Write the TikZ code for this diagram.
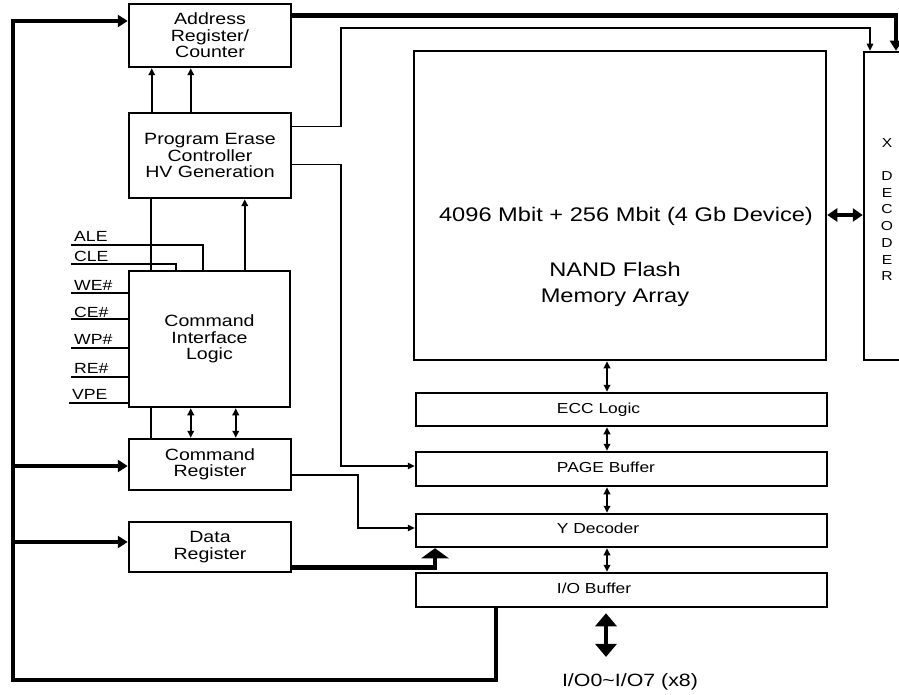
\documentclass[tikz,border=0pt]{standalone}
\usepackage{fontspec}
\setmainfont{Liberation Sans}[FakeStretch=1.2]
\usetikzlibrary{arrows.meta}
\begin{document}
\begin{tikzpicture}[x=1pt,y=-1pt,
  box/.style={draw, line width=2.5pt, inner sep=0pt, align=center},
  boxtxt/.style={font=\fontsize{16.3}{16.5}\selectfont},
  rowtxt/.style={font=\fontsize{14.5}{16}\selectfont, inner sep=0pt, anchor=base west},
  sig/.style={font=\fontsize{14.7}{16}\selectfont, inner sep=0pt, anchor=base west},
  memtxt/.style={font=\fontsize{19.7}{24}\selectfont, inner sep=0pt, anchor=base},
  wire/.style={line width=1.5pt},
  harr/.style={-{Triangle[length=7pt,width=6.5pt]}},
  tline/.style={line width=1.8pt},
  tarr/.style={line width=1.8pt, -{Triangle[length=7pt,width=6.5pt]}},
  tdbl/.style={line width=1.8pt, {Triangle[length=7pt,width=6.5pt]}-{Triangle[length=7pt,width=6.5pt]}},
  bus/.style={line width=4.5pt},
  busarr/.style={bus, -{Triangle[length=10pt,width=12pt]}},
]
\useasboundingbox (0,0) rectangle (899,695);
\clip (0,0) rectangle (899,695);

% boxes
\node[box, boxtxt, minimum width=162pt, minimum height=63pt] (addr) at (210,35.5) {Address\\Register/\\Counter};
\node[box, boxtxt, minimum width=162pt, minimum height=85pt] (pe) at (210,155.5) {Program Erase\\Controller\\HV Generation};
\node[box, boxtxt, minimum width=161pt, minimum height=136pt] (cil) at (209.5,339) {Command\\Interface\\Logic};
\node[box, boxtxt, minimum width=162pt, minimum height=51pt] (cr) at (210,464.5) {Command\\Register};
\node[box, boxtxt, minimum width=162pt, minimum height=50pt] (dr) at (210,547) {Data\\Register};

\node[box, minimum width=412pt, minimum height=309pt] (mem) at (620,205.5) {};
\node[memtxt] (memtitle) at (626,222) {4096 Mbit + 256 Mbit (4 Gb Device)};
\node[memtxt] (memname1) at (615,276) {NAND Flash};
\node[memtxt] (memname2) at (615,302) {Memory Array};

\node[box, minimum width=46pt, minimum height=308pt] (xdec) at (887,206) {};
\node[font=\fontsize{13}{16.7}\selectfont, align=center, inner sep=0pt] (xdectxt) at (887,209.5) {X\\[16.7pt]D\\E\\C\\O\\D\\E\\R};

\node[box, minimum width=411pt, minimum height=33pt] (ecc) at (621.5,409.5) {};
\node[box, minimum width=411pt, minimum height=34pt] (page) at (621.5,469) {};
\node[box, minimum width=411pt, minimum height=33pt] (ydec) at (621.5,530.5) {};
\node[box, minimum width=411pt, minimum height=34pt] (iob) at (621.5,590) {};
\node[rowtxt] (ecct) at ([xshift=142pt,yshift=-3.5pt]ecc.west) {ECC Logic};
\node[rowtxt] (paget) at ([xshift=142pt,yshift=-3.5pt]page.west) {PAGE Buffer};
\node[rowtxt] (ydect) at ([xshift=142pt,yshift=-3pt]ydec.west) {Y Decoder};
\node[rowtxt] (iobt) at ([xshift=142pt,yshift=-3pt]iob.west) {I/O Buffer};

\node[font=\fontsize{17.8}{20}\selectfont, inner sep=0pt, anchor=base] (iolbl) at (630,686) {I/O0\textasciitilde I/O7 (x8)};

% main bus
\coordinate (busT) at (13,21);
\coordinate (busB) at (13,680);
\draw[busarr] ([xshift=81pt]iob.south west) |- (busB) -- (busT) -- (addr.west |- busT);
\coordinate (crin) at ([yshift=-1.5pt]cr.west);
\draw[busarr] (busT |- crin) -- (crin);
\coordinate (drin) at ([yshift=5pt]dr.west);
\draw[busarr] (busT |- drin) -- (drin);

% address bus to X decoder
\coordinate (xb) at (896,0);
\draw[busarr] ([yshift=-13pt]addr.north east) -| (xdec.north -| xb);

% PE thin lines
\coordinate (t1) at (341,28);
\coordinate (xt) at (870,0);
\draw[wire, harr] ([yshift=-15pt]pe.north east) -| (t1) -| (xdec.north -| xt);
\coordinate (pgin) at ([yshift=3pt]page.west);
\draw[wire, harr] ([yshift=-53pt]pe.north east) -| (pgin -| t1) -- (pgin);

% CR to Y decoder
\coordinate (crx) at (358,0);
\coordinate (ydin) at ([yshift=2.5pt]ydec.west);
\draw[wire, harr] ([yshift=-37pt]cr.north east) -| (ydin -| crx) -- (ydin);

% DR bus to Y decoder
\coordinate (ydb) at (435,0);
\draw[bus, -{Triangle[length=10pt,width=27pt]}] ([yshift=6pt]dr.south east) -| (ydec.south -| ydb);

% PE -> address
\draw[tarr] ([xshift=24pt]pe.north west) -- ([xshift=24pt]addr.south west);
\draw[tarr] ([xshift=63pt]pe.north west) -- ([xshift=63pt]addr.south west);

% PE - CIL - CR
\draw[tline] ([xshift=23pt]pe.south west) -- ([xshift=23pt]cil.north west);
\draw[tline] ([xshift=23pt]cil.south west) -- ([xshift=23pt]cr.north west);
\draw[tarr] ([xshift=117pt]cil.north west) -- ([xshift=117pt]pe.south west);
\draw[tdbl] ([xshift=63pt]cil.south west) -- ([xshift=63pt]cr.north west);
\draw[tdbl] ([xshift=108pt]cil.south west) -- ([xshift=108pt]cr.north west);

% control signals
\coordinate (sALE) at (71,245);
\coordinate (sCLE) at (71,264);
\coordinate (sWE) at (71,293);
\coordinate (sCE) at (71,319);
\coordinate (sWP) at (71,348);
\coordinate (sRE) at (71,377);
\coordinate (sVPE) at (69,403);
\draw[wire] (sALE) -| ([xshift=75pt]cil.north west);
\draw[wire] (sCLE) -| ([xshift=48pt]cil.north west);
\draw[wire] (sWE) -- (sWE -| cil.west);
\draw[wire] (sCE) -- (sCE -| cil.west);
\draw[wire] (sWP) -- (sWP -| cil.west);
\draw[wire] (sRE) -- (sRE -| cil.west);
\draw[wire] (sVPE) -- (sVPE -| cil.west);
\node[sig] (lALE) at (74,241) {ALE};
\node[sig] (lCLE) at (74,261.5) {CLE};
\node[sig] (lWE) at (74,290) {WE\#};
\node[sig] (lCE) at (74,317) {CE\#};
\node[sig] (lWP) at (74,344) {WP\#};
\node[sig] (lRE) at (74,373) {RE\#};
\node[sig] (lVPE) at (72,399.5) {VPE};

% column arrows
\coordinate (cx) at (607,0);
\draw[tdbl] (mem.south -| cx) -- (ecc.north -| cx);
\draw[tdbl] (ecc.south -| cx) -- (page.north -| cx);
\draw[tdbl] (page.south -| cx) -- (ydec.north -| cx);
\draw[tdbl] (ydec.south -| cx) -- (iob.north -| cx);

% memory <-> X decoder
\coordinate (my) at (0,215);
\draw[bus, {Triangle[length=10pt,width=13pt]}-{Triangle[length=10pt,width=13pt]}] (mem.east |- my) -- (xdec.west |- my);

% I/O
\coordinate (iox) at (606,0);
\draw[bus, {Triangle[length=13pt,width=21pt]}-{Triangle[length=13pt,width=21pt]}, shorten <=5pt, shorten >=16pt] (iob.south -| iox) -- (iolbl.north -| iox);
\end{tikzpicture}
\end{document}
